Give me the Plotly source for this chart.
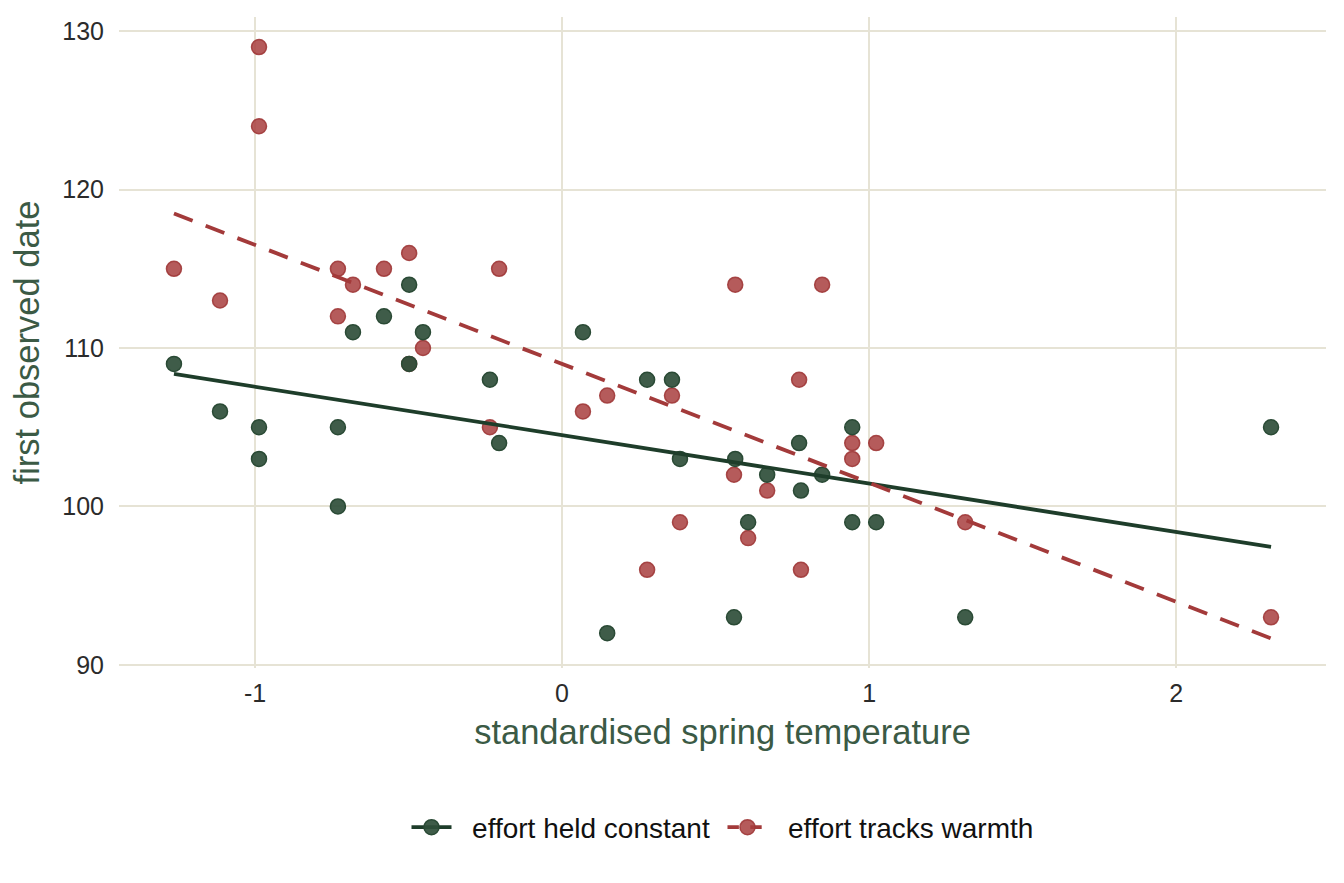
import numpy as np
import plotly.graph_objects as go

# standardised spring temperature (shared by both series)
temperature = [-1.264, -1.114, -0.987, -0.987, -0.730, -0.730, -0.681, -0.580, -0.498, -0.498,
               -0.453, -0.235, -0.205, 0.068, 0.147, 0.277, 0.358, 0.384, 0.564, 0.560,
               0.606, 0.668, 0.772, 0.778, 0.847, 0.945, 0.945, 1.023, 1.313, 2.309]
# first observed date, effort held constant
date_constant = [109, 106, 105, 103, 105, 100, 111, 112, 114, 109,
                 111, 108, 104, 111, 92, 108, 108, 103, 103, 93,
                 99, 102, 104, 101, 102, 105, 99, 99, 93, 105]
# first observed date, effort tracks warmth
date_tracks = [115, 113, 129, 124, 115, 112, 114, 115, 116, 109,
               110, 105, 115, 106, 107, 96, 107, 99, 114, 102,
               98, 101, 108, 96, 114, 104, 103, 104, 99, 93]

series_names = ["effort held constant", "effort tracks warmth"]

GREEN_FILL = "rgba(47,78,58,0.92)"
GREEN_EDGE = "#2a4a35"
GREEN_LINE = "#1e3d2a"
RED_FILL = "rgba(168,62,62,0.85)"
RED_EDGE = "rgba(160,56,56,0.9)"
RED_LINE = "#a33a3a"
MSIZE = 15

x = np.array(temperature, dtype=float)
xfit = np.array([x.min(), x.max()])

fig = go.Figure()

# markers: red first, green on top
fig.add_trace(go.Scatter(x=temperature, y=date_tracks, mode="markers", showlegend=False,
                         marker=dict(size=MSIZE, color=RED_FILL, line=dict(color=RED_EDGE, width=1.5))))
fig.add_trace(go.Scatter(x=temperature, y=date_constant, mode="markers", showlegend=False,
                         marker=dict(size=MSIZE, color=GREEN_FILL, line=dict(color=GREEN_EDGE, width=1.5))))

# linear fits
for ys, col, dash in [(date_constant, GREEN_LINE, "solid"), (date_tracks, RED_LINE, "20px,14px")]:
    b, a = np.polyfit(x, np.array(ys, dtype=float), 1)
    fig.add_trace(go.Scatter(x=xfit, y=a + b * xfit, mode="lines", showlegend=False,
                             line=dict(color=col, width=3.8, dash=dash)))

# legend entries
NB = "\u00a0\u00a0"
fig.add_trace(go.Scatter(x=[None], y=[None], mode="lines+markers", name=NB + series_names[0] + "\u00a0",
                         marker=dict(size=MSIZE, color=GREEN_FILL, line=dict(color=GREEN_EDGE, width=1.5)),
                         line=dict(color=GREEN_LINE, width=3.8)))
fig.add_trace(go.Scatter(x=[None], y=[None], mode="lines+markers", name=NB + series_names[1],
                         marker=dict(size=MSIZE, color=RED_FILL, line=dict(color=RED_EDGE, width=1.5)),
                         line=dict(color=RED_LINE, width=3.8, dash="dash")))

GRID = "#e6e3d5"
fig.update_layout(
    width=1344, height=883,
    paper_bgcolor="white", plot_bgcolor="white",
    margin=dict(l=119, r=18, t=17, b=215),
    font=dict(family="Liberation Sans, Arial, sans-serif", color="#2b2b2b", size=25),
    showlegend=True,
    legend=dict(orientation="h", x=0.5, xanchor="center", y=-0.245, yanchor="middle",
                font=dict(size=28, color="#111111"), itemwidth=40, bgcolor="rgba(0,0,0,0)"),
    xaxis=dict(range=[-1.443, 2.488], tickvals=[-1, 0, 1, 2], ticktext=["-1", "0", "1", "2"],
               showgrid=True, gridcolor=GRID, gridwidth=1.6, zeroline=False, showline=False,
               ticks="", ticklabelstandoff=8,
               tickfont=dict(size=25, color="#2b2b2b"),
               title=dict(text="standardised spring temperature", standoff=13,
                          font=dict(size=34.5, color="#3b5a45"))),
    yaxis=dict(range=[89.8, 130.9], tickvals=[90, 100, 110, 120, 130],
               showgrid=True, gridcolor=GRID, gridwidth=1.6, zeroline=False, showline=False,
               ticks="", ticklabelstandoff=14,
               tickfont=dict(size=25, color="#2b2b2b"),
               title=dict(text="first observed date", standoff=12,
                          font=dict(size=34.5, color="#3b5a45"))),
)

fig.write_html("out.html")
